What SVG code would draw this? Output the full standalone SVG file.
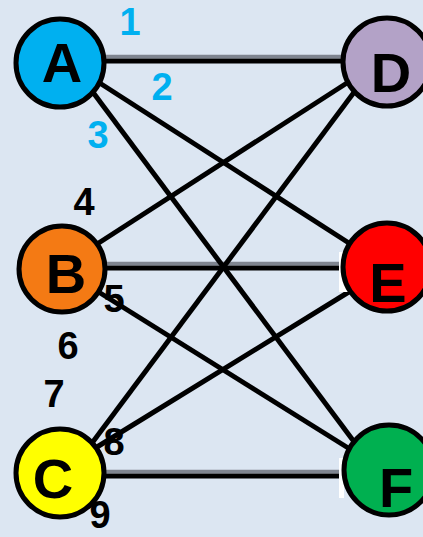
<svg xmlns="http://www.w3.org/2000/svg" width="423" height="537" viewBox="0 0 423 537">
<style>
.bg{fill:#DCE6F2}
.node{stroke:#000;stroke-width:5}
.edge{stroke:#000;stroke-width:5;stroke-linecap:butt;fill:none}
.shadow{stroke:#7F8590;stroke-width:3.5;fill:none}
.lbl{font-family:"Liberation Sans",Arial,sans-serif;font-weight:bold;font-size:56px;text-anchor:middle;fill:#000}
.num{font-family:"Liberation Sans",Arial,sans-serif;font-weight:bold;font-size:38px;text-anchor:middle}
.blue{fill:#00B0F0}
.blk{fill:#000}
</style>
<rect class="bg" x="0" y="0" width="423" height="537"/>
<g id="connectors">
<line class="shadow" x1="100" y1="56.5" x2="345" y2="56.5"/>
<line class="edge" x1="100" y1="61" x2="345" y2="61"/>
<line class="shadow" x1="100" y1="263.5" x2="345" y2="263.5"/>
<line class="edge" x1="100" y1="268" x2="345" y2="268"/>
<line class="shadow" x1="100" y1="471.5" x2="345" y2="471.5"/>
<line class="edge" x1="100" y1="476" x2="345" y2="476"/>
<line class="edge" x1="95" y1="80" x2="352" y2="245"/>
<line class="edge" x1="92" y1="91" x2="355" y2="443"/>
<line class="edge" x1="94" y1="246" x2="350" y2="81"/>
<line class="edge" x1="97" y1="291" x2="353" y2="451"/>
<line class="edge" x1="92" y1="443" x2="355" y2="91"/>
<line class="edge" x1="97" y1="447" x2="352" y2="290"/>
<rect x="339" y="252" width="9" height="40" fill="#fff"/>
<rect x="339" y="458" width="5" height="40" fill="#fff"/>
</g>
<g id="A"><circle class="node" cx="60" cy="63" r="44" fill="#00B0F0"/><text class="lbl" x="62" y="82">A</text></g>
<g id="D"><circle class="node" cx="387" cy="62" r="44" fill="#B3A2C7"/><text class="lbl" x="391" y="92">D</text></g>
<g id="B"><circle class="node" cx="62" cy="269" r="43" fill="#F47A14"/><text class="lbl" x="66" y="293">B</text></g>
<g id="E"><circle class="node" cx="387" cy="267" r="44" fill="#FF0000"/><text class="lbl" x="388" y="302">E</text></g>
<g id="C"><circle class="node" cx="60" cy="473" r="44" fill="#FFFF00"/><text class="lbl" x="53" y="498">C</text></g>
<g id="F"><circle class="node" cx="389" cy="470" r="45" fill="#00B050"/><text class="lbl" x="396" y="507">F</text></g>
<g id="labels">
<text class="num blue" x="130" y="35">1</text>
<text class="num blue" x="162" y="100">2</text>
<text class="num blue" x="98" y="148">3</text>
<text class="num blk" x="84" y="215">4</text>
<text class="num blk" x="114" y="312">5</text>
<text class="num blk" x="68" y="359">6</text>
<text class="num blk" x="54" y="407">7</text>
<text class="num blk" x="114" y="455">8</text>
<text class="num blk" x="100" y="528">9</text>
</g>
</svg>
